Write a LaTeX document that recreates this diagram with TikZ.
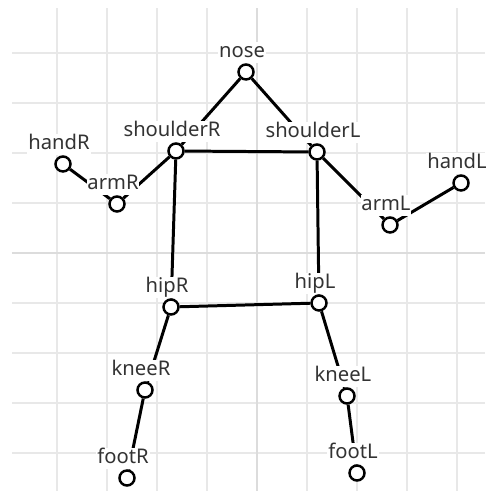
\documentclass[tikz,border=0pt]{standalone}
\usepackage{fontspec}
\setmainfont{Noto Sans}
\usetikzlibrary{backgrounds}
\definecolor{gridgray}{HTML}{E8E8E8}
\definecolor{axisgray}{HTML}{DCDCDC}
\definecolor{labelgray}{HTML}{333333}

\begin{document}
\begin{tikzpicture}[x=1cm,y=1cm,
  lbl/.style={fill=white,text=labelgray,inner sep=0.5pt,text height=8.5pt,text depth=2.5pt,
    font=\fontsize{11.5}{13}\selectfont,xshift=-0.08cm},
  joint/.style={circle,draw=black,fill=white,line width=1.4pt,minimum size=0.3cm,inner sep=0pt,
    label distance=0.06cm,label={[lbl]above:#1}},
  bone/.style={line width=1.7pt,black}]
 \useasboundingbox (-5.14,-4.76) rectangle (4.56,5.06);
 \begin{pgfonlayer}{background}
  \foreach \i in {-4,...,4}{ \draw[gridgray,line width=0.8pt] (\i,-4.76) -- (\i,4.9); }
  \foreach \j in {-4,...,4}{ \draw[gridgray,line width=0.8pt] (-4.9,\j) -- (4.56,\j); }
  \draw[axisgray,line width=1.6pt] (0,-4.76) -- (0,4.9); \draw[axisgray,line width=1.6pt] (-4.9,0) -- (4.56,0);
 \end{pgfonlayer}
 \node[joint=nose] (nose) at (-0.22,3.62) {};
 \node[joint=shoulderR] (shoulderR) at (-1.62,2.04) {};
 \node[joint=shoulderL] (shoulderL) at (1.20,2.02) {};
 \node[joint=handR] (handR) at (-3.88,1.78) {};
 \node[joint=armR] (armR) at (-2.80,0.98) {};
 \node[joint=armL] (armL) at (2.66,0.56) {};
 \node[joint=handL] (handL) at (4.08,1.40) {};
 \node[joint=hipR] (hipR) at (-1.72,-1.08) {};
 \node[joint=hipL] (hipL) at (1.24,-1.00) {};
 \node[joint=kneeR] (kneeR) at (-2.24,-2.74) {};
 \node[joint=kneeL] (kneeL) at (1.80,-2.86) {};
 \node[joint=footR] (footR) at (-2.60,-4.50) {};
 \node[joint=footL] (footL) at (2.00,-4.40) {};
 \begin{pgfonlayer}{background}
  \draw[bone] (shoulderR) -- (nose) -- (shoulderL);
  \draw[bone] (shoulderR) -- (shoulderL);
  \draw[bone] (handR) -- (armR) -- (shoulderR);
  \draw[bone] (shoulderL) -- (armL) -- (handL);
  \draw[bone] (shoulderR) -- (hipR) -- (hipL) -- (shoulderL);
  \draw[bone] (hipR) -- (kneeR) -- (footR);
  \draw[bone] (hipL) -- (kneeL) -- (footL);
 \end{pgfonlayer}
\end{tikzpicture}
\end{document}
